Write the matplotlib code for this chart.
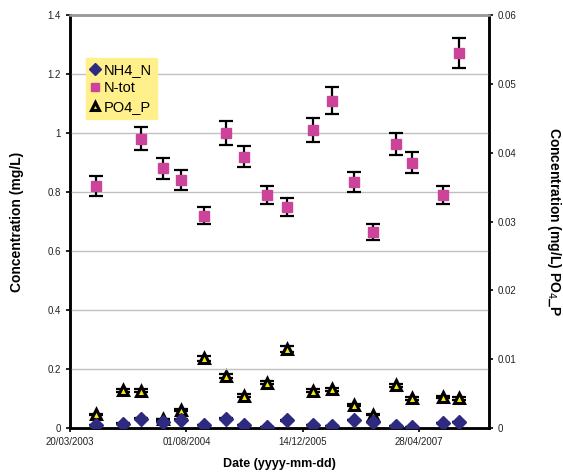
import numpy as np
import matplotlib
matplotlib.use('Agg')
import matplotlib.pyplot as plt
import matplotlib.dates as mdates
from matplotlib.ticker import FuncFormatter, MultipleLocator
from datetime import datetime

plt.rcParams['font.family'] = ['Liberation Sans', 'DejaVu Sans']

# sampling dates
dates = ['2003-07-11', '2003-11-02', '2004-01-19', '2004-04-24', '2004-07-08',
         '2004-10-14', '2005-01-19', '2005-04-05', '2005-07-14', '2005-10-07',
         '2006-01-27', '2006-04-20', '2006-07-20', '2006-10-10', '2007-01-17',
         '2007-03-28', '2007-08-07', '2007-10-17']

# concentrations (mg/L)
nh4_n = [0.009, 0.015, 0.032, 0.022, 0.028, 0.011, 0.032, 0.009, 0.004,
         0.026, 0.011, 0.008, 0.027, 0.020, 0.008, 0.002, 0.017, 0.020]
n_tot = [0.82, np.nan, 0.98, 0.88, 0.84, 0.72, 1.00, 0.92, 0.79,
         0.75, 1.01, 1.11, 0.835, 0.665, 0.963, 0.90, 0.79, 1.27]
po4_p = [0.0020, 0.0055, 0.0054, 0.0013, 0.0026, 0.0101, 0.0075, 0.0047, 0.0066,
         0.0115, 0.0054, 0.0056, 0.0033, 0.0019, 0.0062, 0.0043, 0.0045, 0.0043]
rel_err = 0.04

tick_dates = ['2003-03-20', '2004-08-01', '2005-12-14', '2007-04-28']
x_end = '2008-02-22'

x = [datetime.strptime(d, '%Y-%m-%d') for d in dates]
nh4_n = np.array(nh4_n)
n_tot = np.array(n_tot)
po4_p = np.array(po4_p)

fig = plt.figure(figsize=(5.63, 4.74), dpi=100)
ax = fig.add_axes([70 / 563, 1 - 428 / 474, 419 / 563, 413 / 474])
ax2 = ax.twinx()

eb = dict(fmt='none', ecolor='black', elinewidth=1.6, capsize=5, capthick=1.6, zorder=3)
ax.errorbar(x, nh4_n, yerr=nh4_n * rel_err, **eb)
ax.errorbar(x, n_tot, yerr=n_tot * rel_err, **eb)
ax2.errorbar(x, po4_p, yerr=po4_p * rel_err, **eb)

h1, = ax.plot(x, nh4_n, 'D', color='#2E2A80', ms=7, mec='#2E2A80', zorder=4, label='NH4_N')
h2, = ax.plot(x, n_tot, 's', color='#CC4499', ms=7, mec='#CC4499', zorder=4, label='N-tot')
h3, = ax2.plot(x, po4_p, '^', mfc='#FFE800', mec='black', mew=2.2, ms=7, zorder=4, label='PO4_P')

t0 = datetime.strptime(tick_dates[0], '%Y-%m-%d')
ax.set_xlim(t0, datetime.strptime(x_end, '%Y-%m-%d'))
ax.set_xticks([datetime.strptime(d, '%Y-%m-%d') for d in tick_dates])
ax.xaxis.set_major_formatter(mdates.DateFormatter('%d/%m/%Y'))

ax.set_ylim(0, 1.4)
ax.yaxis.set_major_locator(MultipleLocator(0.2))
ax2.set_ylim(0, 0.06)
ax2.yaxis.set_major_locator(MultipleLocator(0.01))
fmt = FuncFormatter(lambda v, p: '%g' % round(v, 4))
ax.yaxis.set_major_formatter(fmt)
ax2.yaxis.set_major_formatter(fmt)

for a in (ax, ax2):
    a.tick_params(labelsize=7, length=3, width=1.2, colors='black', labelcolor='#222222')
    for s in a.spines.values():
        s.set_linewidth(1.8)
        s.set_color('black')
ax.spines['top'].set_color('#999999')
ax2.spines['top'].set_color('#999999')

ax.grid(axis='y', color='#C0C0C0', linewidth=1)
ax.set_axisbelow(True)
ax.set_zorder(ax2.get_zorder() + 1)
ax.patch.set_visible(False)

ax.set_xlabel('Date (yyyy-mm-dd)', fontsize=9, fontweight='bold', labelpad=8)
ax.set_ylabel('Concentration (mg/L)', fontsize=10, fontweight='bold', labelpad=17)
ax2.set_ylabel('Concentration (mg/L) PO$_4$_P', fontsize=10, fontweight='bold',
               rotation=270, labelpad=33)

leg = ax.legend(handles=[h1, h2, h3], loc='upper left', bbox_to_anchor=(0.038, 0.896),
                borderaxespad=0, fontsize=10.5, frameon=True, fancybox=False,
                handlelength=0.6, handletextpad=0.25, labelspacing=0.3, borderpad=0.35,
                markerscale=0.85)
leg.get_frame().set_facecolor('#FFF08C')
leg.get_frame().set_edgecolor('#FFF08C')
leg.get_frame().set_alpha(1)

fig.savefig('out.png', dpi=100)
